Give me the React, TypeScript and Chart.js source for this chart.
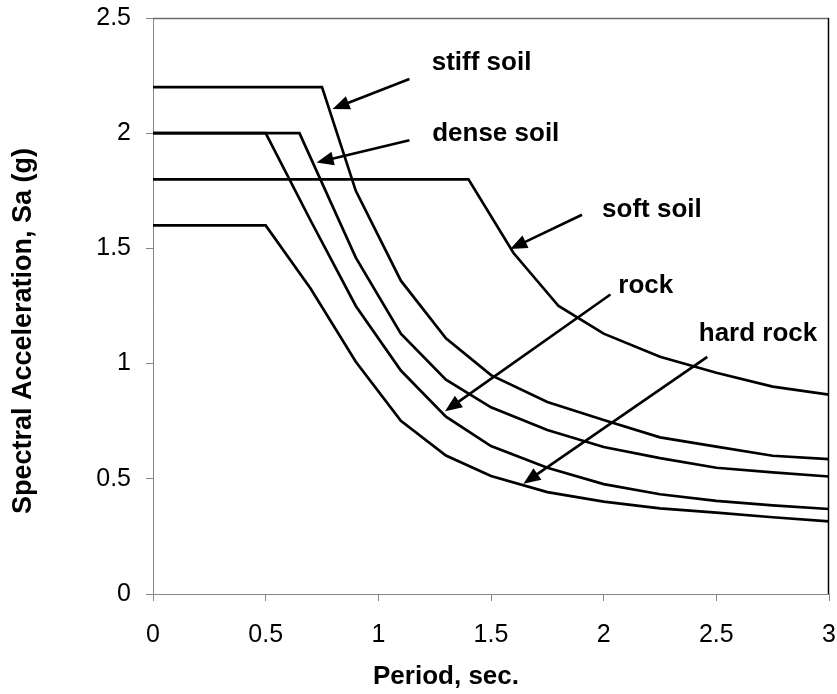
import React, { useEffect, useRef } from "react";
import { Chart, registerables } from "chart.js";

Chart.register(...registerables);

// ---- data (period in sec, spectral acceleration in g) ----
const softSoilT = [0, 1.4, 1.6, 1.8, 2.0, 2.25, 2.5, 2.75, 3.0];
const softSoilSa = [1.8, 1.8, 1.48, 1.25, 1.13, 1.03, 0.96, 0.9, 0.865];

const stiffSoilT = [0, 0.75, 0.9, 1.1, 1.3, 1.5, 1.75, 2.0, 2.25, 2.5, 2.75, 3.0];
const stiffSoilSa = [2.2, 2.2, 1.75, 1.36, 1.11, 0.95, 0.833, 0.755, 0.68, 0.64, 0.6, 0.585];

const denseSoilT = [0, 0.65, 0.9, 1.1, 1.3, 1.5, 1.75, 2.0, 2.25, 2.5, 2.75, 3.0];
const denseSoilSa = [2.0, 2.0, 1.46, 1.13, 0.93, 0.81, 0.712, 0.638, 0.59, 0.548, 0.528, 0.51];

const rockT = [0, 0.5, 0.7, 0.9, 1.1, 1.3, 1.5, 1.75, 2.0, 2.25, 2.5, 2.75, 3.0];
const rockSa = [2.0, 2.0, 1.62, 1.25, 0.97, 0.77, 0.642, 0.548, 0.477, 0.433, 0.404, 0.385, 0.369];

const hardRockT = [0, 0.5, 0.7, 0.9, 1.1, 1.3, 1.5, 1.75, 2.0, 2.25, 2.5, 2.75, 3.0];
const hardRockSa = [1.6, 1.6, 1.325, 1.008, 0.752, 0.601, 0.512, 0.442, 0.401, 0.372, 0.353, 0.333, 0.315];

// ---- annotations (data coordinates) ----
const labelTexts = ["stiff soil", "dense soil", "soft soil", "rock", "hard rock"];
const labelX = [1.237, 1.239, 1.993, 2.065, 2.422];
const labelY = [2.276, 1.967, 1.638, 1.308, 1.096];
const arrowTailX = [1.138, 1.138, 1.904, 2.03, 2.46];
const arrowTailY = [2.235, 1.969, 1.646, 1.3, 1.029];
const arrowHeadX = [0.797, 0.726, 1.585, 1.296, 1.644];
const arrowHeadY = [2.105, 1.873, 1.497, 0.793, 0.479];

const xTitle = "Period, sec.";
const yTitle = "Spectral Acceleration, Sa (g)";

const FONT = "'Liberation Sans', Arial, Helvetica, sans-serif";

export default function App() {
  const ref = useRef<HTMLCanvasElement>(null);

  useEffect(() => {
    document.body.style.margin = "0";
    const canvas = ref.current;
    if (!canvas) return;

    const mk = (t: number[], v: number[]) => t.map((x, i) => ({ x, y: v[i] }));
    const lineStyle = {
      borderColor: "#000",
      borderWidth: 2.7,
      pointRadius: 0,
      fill: false,
      tension: 0,
    };

    const overlay = {
      id: "overlay",
      afterDatasetsDraw(chart: any) {
        const { ctx, chartArea: a, scales } = chart;
        const xs = scales.x;
        const ys = scales.y;
        ctx.save();
        // frame: top gray, right black
        ctx.lineWidth = 1.3;
        ctx.strokeStyle = "#6e6e6e";
        ctx.beginPath();
        ctx.moveTo(a.left, a.top + 0.5);
        ctx.lineTo(a.right, a.top + 0.5);
        ctx.stroke();
        ctx.strokeStyle = "#000";
        ctx.lineWidth = 1.5;
        ctx.beginPath();
        ctx.moveTo(a.right - 0.5, a.top);
        ctx.lineTo(a.right - 0.5, a.bottom);
        ctx.stroke();

        // arrows
        ctx.strokeStyle = "#000";
        ctx.fillStyle = "#000";
        ctx.lineWidth = 2.6;
        for (let i = 0; i < labelTexts.length; i++) {
          const x1 = xs.getPixelForValue(arrowTailX[i]);
          const y1 = ys.getPixelForValue(arrowTailY[i]);
          const x2 = xs.getPixelForValue(arrowHeadX[i]);
          const y2 = ys.getPixelForValue(arrowHeadY[i]);
          const ang = Math.atan2(y2 - y1, x2 - x1);
          const hl = 17;
          const hw = 7;
          const bx = x2 - hl * Math.cos(ang);
          const by = y2 - hl * Math.sin(ang);
          ctx.beginPath();
          ctx.moveTo(x1, y1);
          ctx.lineTo(bx + 2 * Math.cos(ang), by + 2 * Math.sin(ang));
          ctx.stroke();
          ctx.beginPath();
          ctx.moveTo(x2, y2);
          ctx.lineTo(bx + hw * Math.sin(ang), by - hw * Math.cos(ang));
          ctx.lineTo(bx - hw * Math.sin(ang), by + hw * Math.cos(ang));
          ctx.closePath();
          ctx.fill();
        }

        // labels
        ctx.font = `bold 26px ${FONT}`;
        ctx.textAlign = "left";
        ctx.textBaseline = "alphabetic";
        for (let i = 0; i < labelTexts.length; i++) {
          ctx.fillText(
            labelTexts[i],
            xs.getPixelForValue(labelX[i]),
            ys.getPixelForValue(labelY[i])
          );
        }

        // axis titles
        ctx.textAlign = "center";
        ctx.textBaseline = "middle";
        ctx.font = `bold 26px ${FONT}`;
        ctx.fillText(xTitle, 446, 677);
        ctx.save();
        ctx.font = `bold 27px ${FONT}`;
        ctx.translate(24, 331);
        ctx.rotate(-Math.PI / 2);
        ctx.fillText(yTitle, 0, 0);
        ctx.restore();

        ctx.restore();
      },
    };

    const fmt = (v: any) => String(Number(v));

    const chart = new Chart(canvas, {
      type: "line",
      data: {
        datasets: [
          { label: "soft soil", data: mk(softSoilT, softSoilSa), ...lineStyle },
          { label: "stiff soil", data: mk(stiffSoilT, stiffSoilSa), ...lineStyle },
          { label: "dense soil", data: mk(denseSoilT, denseSoilSa), ...lineStyle },
          { label: "rock", data: mk(rockT, rockSa), ...lineStyle },
          { label: "hard rock", data: mk(hardRockT, hardRockSa), ...lineStyle },
        ],
      },
      options: {
        responsive: false,
        animation: false,
        devicePixelRatio: 1,
        layout: { padding: { left: 0, right: 8, top: 18, bottom: 0 } },
        plugins: {
          legend: { display: false },
          tooltip: { enabled: false },
        },
        scales: {
          x: {
            type: "linear",
            min: 0,
            max: 3,
            ticks: {
              stepSize: 0.5,
              color: "#000",
              font: { family: FONT, size: 25 },
              padding: 19,
              maxRotation: 0,
              callback: fmt,
            },
            grid: {
              drawOnChartArea: false,
              tickLength: 7,
              color: "#868686",
            },
            border: { color: "#868686", width: 1 },
            afterFit: (s: any) => {
              s.height = 100;
              s.paddingLeft = 0;
              s.paddingRight = 0;
            },
          },
          y: {
            type: "linear",
            min: 0,
            max: 2.5,
            ticks: {
              stepSize: 0.5,
              color: "#000",
              font: { family: FONT, size: 25 },
              padding: 15,
              callback: fmt,
            },
            grid: {
              drawOnChartArea: false,
              tickLength: 7,
              color: "#868686",
            },
            border: { color: "#868686", width: 1 },
            afterFit: (s: any) => {
              s.width = 153;
              s.paddingTop = 0;
              s.paddingBottom = 0;
            },
          },
        },
      },
      plugins: [overlay],
    });

    return () => chart.destroy();
  }, []);

  return (
    <div style={{ width: 837, height: 694, background: "#fff" }}>
      <canvas ref={ref} width={837} height={694} style={{ display: "block" }} />
    </div>
  );
}
